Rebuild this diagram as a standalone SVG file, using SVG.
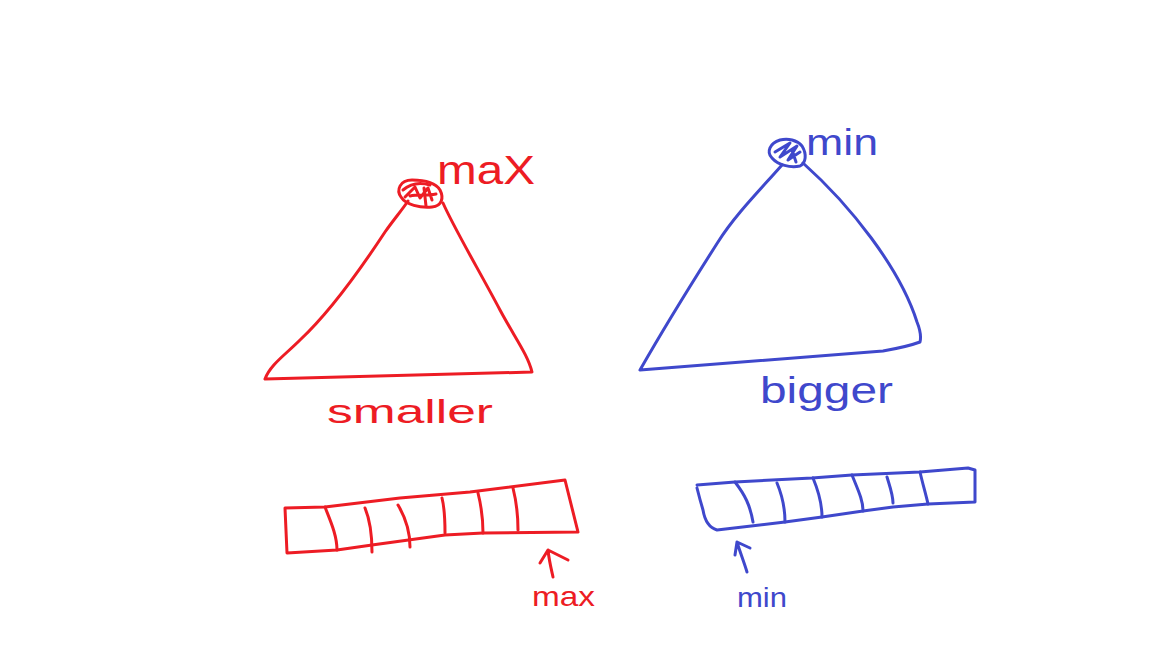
<svg xmlns="http://www.w3.org/2000/svg" width="1152" height="648" viewBox="0 0 1152 648">
<style>
.r{fill:none;stroke:#ED1C24;stroke-width:3;stroke-linecap:round;stroke-linejoin:round}
.b{fill:none;stroke:#3F48CC;stroke-width:3;stroke-linecap:round;stroke-linejoin:round}
.tr{fill:#ED1C24;font-family:"Liberation Sans","DejaVu Sans",sans-serif}
.tb{fill:#3F48CC;font-family:"Liberation Sans","DejaVu Sans",sans-serif}
</style>
<rect width="1152" height="648" fill="#fff"/>
<g id="red-heap">
<path class="r" d="M408,201 C402,210 395,218 385,232 C360,270 330,312 300,340 C285,355 270,365 265,379 L532,372 C528,355 515,338 500,310 C480,272 455,230 443,203"/>
<path class="r" d="M412,180 C400,180 396,190 401,197 C406,205 420,208 432,207 C442,206 444,198 440,190 C435,182 425,180 412,180"/>
<path class="r" d="M403,190 C410,184 420,182 430,185 M405,197 L415,187 L420,198 L428,188 L432,200 M410,196 C418,194 426,196 436,194 M424,188 L426,206"/>
<text class="tr" x="437" y="184" font-size="40" textLength="98" lengthAdjust="spacingAndGlyphs">maX</text>
<text class="tr" x="327" y="423" font-size="34" textLength="166" lengthAdjust="spacingAndGlyphs">smaller</text>
</g>
<g id="blue-heap">
<path class="b" d="M782,165 C760,190 735,215 718,242 C695,278 660,335 640,370 L883,351 C900,348 912,345 920,342 C921,338 921,332 917,322 C900,268 850,205 803,163"/>
<path class="b" d="M780,140 C770,143 766,152 772,158 C778,165 790,168 800,166 C806,163 807,154 802,146 C797,140 788,138 780,140"/>
<path class="b" d="M775,152 L790,143 L780,157 L797,146 L788,160 L800,152 M792,150 L796,162"/>
<text class="tb" x="806" y="155" font-size="36" textLength="72" lengthAdjust="spacingAndGlyphs">min</text>
<text class="tb" x="760" y="403" font-size="36" textLength="133" lengthAdjust="spacingAndGlyphs">bigger</text>
</g>
<g id="red-array">
<path class="r" d="M285,508 L325,507 L400,498 L470,492 L565,480 L578,532 L483,533 L445,535 L372,545 L337,550 L287,553 Z"/>
<path class="r" d="M325,507 C330,520 337,535 337,550 M365,508 C370,520 372,535 372,552 M398,505 C404,515 410,530 410,547 M442,498 C445,510 445,520 445,533 M478,493 C481,505 483,520 483,533 M513,488 C516,500 518,515 518,530"/>
</g>
<g id="blue-array">
<path class="b" d="M697,485 L735,482 L812,478 L852,475 L920,472 L968,468 L975,470 L975,502 L928,504 L893,507 L863,511 L822,517 L785,522 L717,530 C710,528 705,522 703,510 C700,500 698,492 697,488"/>
<path class="b" d="M735,482 C745,495 750,505 753,522 M777,483 C782,495 785,510 785,522 M813,478 C818,490 822,505 822,517 M852,475 C858,490 863,500 863,511 M887,477 C890,487 893,495 893,503 M920,472 C923,485 926,495 928,504"/>
</g>
<g id="connectors">
<path class="r" d="M553,577 C551,568 549,560 548,550 M540,563 L548,550 L568,560"/>
<path class="b" d="M747,572 C744,562 740,552 737,542 M735,555 L737,542 L750,548"/>
</g>
<text class="tr" x="532" y="606" font-size="28" textLength="63" lengthAdjust="spacingAndGlyphs">max</text>
<text class="tb" x="737" y="607" font-size="28" textLength="50" lengthAdjust="spacingAndGlyphs">min</text>
</svg>
